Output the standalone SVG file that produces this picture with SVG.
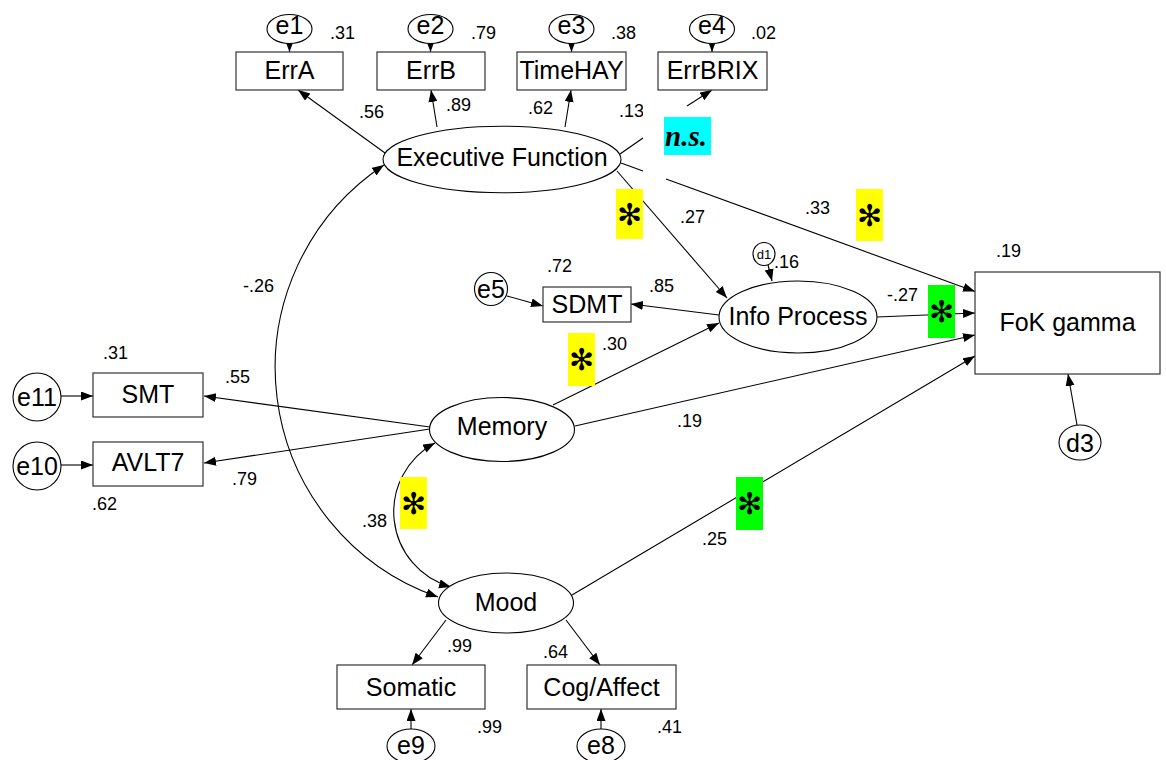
<svg xmlns="http://www.w3.org/2000/svg" width="1166" height="760" viewBox="0 0 1166 760">
  <style>
    .box { fill: #fff; stroke: #333; stroke-width: 1.2; }
    .lat { fill: #fff; stroke: #000; stroke-width: 1.1; }
    .lbl { font-family: "Liberation Sans", Arial, sans-serif; font-size: 25px; fill: #000; text-anchor: middle; }
    .num { font-family: "Liberation Sans", Arial, sans-serif; font-size: 18px; fill: #000; }
    .small { font-family: "Liberation Sans", Arial, sans-serif; font-size: 13px; fill: #000; text-anchor: middle; }
    .edge { fill: none; stroke: #000; stroke-width: 1.1; }
    .arr { marker-end: url(#ah); }
    .both { marker-start: url(#ah); marker-end: url(#ah); }
    .star { font-family: "DejaVu Sans", sans-serif; font-size: 30px; fill: #000; text-anchor: middle; }
    .ns { font-family: "Liberation Serif", "Times New Roman", serif; font-size: 29px; font-weight: bold; font-style: italic; fill: #000; text-anchor: middle; }
  </style>
  <defs>
    <marker id="ah" markerUnits="userSpaceOnUse" markerWidth="13" markerHeight="10" refX="12" refY="4.5" orient="auto-start-reverse">
      <path d="M0,0 L12,4.5 L0,9 z" fill="#000"/>
    </marker>
    <clipPath id="cut13">
      <rect x="600" y="95" width="43" height="30"/>
    </clipPath>
  </defs>
  <rect width="1166" height="760" fill="#fff"/>

  <g id="connectors">
    <!-- error terms into indicators -->
    <line class="edge arr" x1="289.5" y1="43" x2="289.5" y2="52"/>
    <line class="edge arr" x1="430.5" y1="43" x2="430.5" y2="52"/>
    <line class="edge arr" x1="571.5" y1="43" x2="571.5" y2="52"/>
    <line class="edge arr" x1="712" y1="43" x2="712" y2="52"/>
    <!-- executive function loadings -->
    <line class="edge arr" x1="385" y1="153" x2="298" y2="90"/>
    <line class="edge arr" x1="437" y1="127" x2="431" y2="90"/>
    <line class="edge arr" x1="565" y1="127" x2="571" y2="90"/>
    <line class="edge" x1="620" y1="154" x2="643" y2="138"/>
    <line class="edge arr" x1="687" y1="106" x2="712" y2="90"/>
    <!-- executive function paths -->
    <line class="edge" x1="621" y1="163" x2="643" y2="171"/>
    <line class="edge arr" x1="666" y1="179" x2="975" y2="291.5"/>
    <line class="edge arr" x1="617" y1="171" x2="727" y2="298"/>
    <!-- correlations -->
    <path class="edge both" d="M384,165 A243,243 0 0 0 438,597"/>
    <path class="edge both" d="M435,443 A78,78 0 0 0 451,587"/>
    <!-- memory -->
    <line class="edge arr" x1="430" y1="427" x2="204" y2="396"/>
    <line class="edge arr" x1="430" y1="429" x2="204" y2="463"/>
    <line class="edge arr" x1="61" y1="396" x2="93" y2="396"/>
    <line class="edge arr" x1="61" y1="465" x2="93" y2="465"/>
    <line class="edge arr" x1="553" y1="405" x2="719" y2="323"/>
    <line class="edge arr" x1="575" y1="426" x2="975" y2="335"/>
    <!-- info process -->
    <line class="edge arr" x1="719" y1="315" x2="631" y2="304"/>
    <line class="edge arr" x1="507" y1="296" x2="543" y2="306"/>
    <line class="edge arr" x1="768" y1="265" x2="772" y2="281"/>
    <line class="edge arr" x1="877" y1="317" x2="975" y2="313"/>
    <!-- mood -->
    <line class="edge arr" x1="572" y1="595" x2="975" y2="356"/>
    <line class="edge arr" x1="446" y1="620" x2="412" y2="665"/>
    <line class="edge arr" x1="566" y1="620" x2="600" y2="665"/>
    <line class="edge arr" x1="411" y1="729" x2="411" y2="709"/>
    <line class="edge arr" x1="601" y1="729" x2="601" y2="709"/>
    <!-- disturbance on outcome -->
    <line class="edge arr" x1="1077" y1="425" x2="1068" y2="374"/>
  </g>

  <!-- executive function indicators -->
  <g id="e1"><ellipse class="lat" cx="289.5" cy="29" rx="22.5" ry="14.5"/><text class="lbl" x="289.5" y="33.5">e1</text></g>
  <g id="e2"><ellipse class="lat" cx="430.5" cy="29" rx="22.5" ry="14.5"/><text class="lbl" x="430.5" y="33.5">e2</text></g>
  <g id="e3"><ellipse class="lat" cx="571.5" cy="29" rx="22.5" ry="14.5"/><text class="lbl" x="571.5" y="33.5">e3</text></g>
  <g id="e4"><ellipse class="lat" cx="712" cy="29" rx="22.5" ry="14.5"/><text class="lbl" x="712" y="33.5">e4</text></g>

  <g id="ErrA"><rect class="box" x="236" y="52" width="107" height="38"/><text class="lbl" x="289.5" y="79">ErrA</text></g>
  <g id="ErrB"><rect class="box" x="377" y="52" width="108" height="38"/><text class="lbl" x="431" y="79">ErrB</text></g>
  <g id="TimeHAY"><rect class="box" x="517" y="52" width="109" height="38"/><text class="lbl" x="571.5" y="79">TimeHAY</text></g>
  <g id="ErrBRIX"><rect class="box" x="658" y="52" width="109" height="38"/><text class="lbl" x="712.5" y="79">ErrBRIX</text></g>

  <g id="ExecutiveFunction"><ellipse class="lat" cx="502" cy="159.5" rx="119" ry="33.3"/><text class="lbl" x="502" y="166">Executive Function</text></g>

  <g id="InfoProcess"><ellipse class="lat" cx="798" cy="317" rx="79" ry="36"/><text class="lbl" x="798" y="325">Info Process</text></g>
  <g id="d1"><ellipse class="lat" cx="764" cy="254" rx="11" ry="11.5"/><text class="small" x="764" y="258.5">d1</text></g>
  <g id="SDMT"><rect class="box" x="543" y="287" width="88" height="35"/><text class="lbl" x="587" y="313">SDMT</text></g>
  <g id="e5"><ellipse class="lat" cx="491" cy="289" rx="16.5" ry="16.5"/><text class="lbl" x="491" y="298">e5</text></g>

  <g id="FoKgamma"><rect class="box" x="975" y="272" width="185" height="102"/><text class="lbl" x="1067.5" y="331">FoK gamma</text></g>
  <g id="d3"><ellipse class="lat" cx="1080" cy="442.5" rx="21" ry="17.5"/><text class="lbl" x="1080" y="451.5">d3</text></g>

  <g id="Memory"><ellipse class="lat" cx="502" cy="429.5" rx="72.5" ry="32"/><text class="lbl" x="502" y="435">Memory</text></g>
  <g id="SMT"><rect class="box" x="93" y="373" width="110" height="44"/><text class="lbl" x="148" y="403">SMT</text></g>
  <g id="AVLT7"><rect class="box" x="93" y="442" width="110" height="44"/><text class="lbl" x="148" y="471">AVLT7</text></g>
  <g id="e11"><circle class="lat" cx="37" cy="397" r="24"/><text class="lbl" x="37" y="405.5">e11</text></g>
  <g id="e10"><circle class="lat" cx="37" cy="466" r="24"/><text class="lbl" x="37" y="474.5">e10</text></g>

  <g id="Mood"><ellipse class="lat" cx="506" cy="603" rx="67.5" ry="30"/><text class="lbl" x="506" y="611">Mood</text></g>
  <g id="Somatic"><rect class="box" x="337" y="665" width="148" height="44"/><text class="lbl" x="411" y="696">Somatic</text></g>
  <g id="CogAffect"><rect class="box" x="527" y="665" width="149" height="44"/><text class="lbl" x="601.5" y="696">Cog/Affect</text></g>
  <g id="e9"><ellipse class="lat" cx="411" cy="746" rx="24" ry="17"/><text class="lbl" x="411" y="754">e9</text></g>
  <g id="e8"><ellipse class="lat" cx="601" cy="746" rx="24" ry="17"/><text class="lbl" x="601" y="754">e8</text></g>

  <!-- coefficients -->
  <g id="estimates">
    <text class="num" x="330" y="39">.31</text>
    <text class="num" x="471" y="39">.79</text>
    <text class="num" x="611" y="39">.38</text>
    <text class="num" x="751" y="39">.02</text>
    <text class="num" x="359" y="118">.56</text>
    <text class="num" x="446" y="111">.89</text>
    <text class="num" x="528" y="114">.62</text>
    <text class="num" x="619" y="117" clip-path="url(#cut13)">.13</text>
    <text class="num" x="680" y="223">.27</text>
    <text class="num" x="805" y="214">.33</text>
    <text class="num" x="996" y="257">.19</text>
    <text class="num" x="774" y="268">.16</text>
    <text class="num" x="547" y="272">.72</text>
    <text class="num" x="649" y="292">.85</text>
    <text class="num" x="887" y="301">-.27</text>
    <text class="num" x="602" y="350">.30</text>
    <text class="num" x="243" y="292">-.26</text>
    <text class="num" x="103" y="359">.31</text>
    <text class="num" x="225" y="383">.55</text>
    <text class="num" x="232" y="485">.79</text>
    <text class="num" x="92" y="510">.62</text>
    <text class="num" x="677" y="427">.19</text>
    <text class="num" x="362" y="527">.38</text>
    <text class="num" x="702" y="545">.25</text>
    <text class="num" x="447" y="652">.99</text>
    <text class="num" x="543" y="658">.64</text>
    <text class="num" x="477" y="733">.99</text>
    <text class="num" x="657" y="733">.41</text>
  </g>

  <!-- significance flags -->
  <g id="flags">
    <rect x="664" y="117" width="47" height="38" fill="#00ffff"/>
    <text class="ns" x="686" y="146">n.s.</text>
    <rect x="616" y="189" width="27" height="50" fill="#ffff00"/>
    <text class="star" x="629.5" y="225">✻</text>
    <rect x="856" y="189" width="27" height="52" fill="#ffff00"/>
    <text class="star" x="869.5" y="226">✻</text>
    <rect x="928" y="285" width="27" height="53" fill="#00ff00"/>
    <text class="star" x="941.5" y="322">✻</text>
    <rect x="568" y="333" width="27" height="53" fill="#ffff00"/>
    <text class="star" x="581.5" y="370">✻</text>
    <rect x="400" y="477" width="27" height="52" fill="#ffff00"/>
    <text class="star" x="413.5" y="514">✻</text>
    <rect x="736" y="477" width="27" height="53" fill="#00ff00"/>
    <text class="star" x="749.5" y="514">✻</text>
  </g>
</svg>
